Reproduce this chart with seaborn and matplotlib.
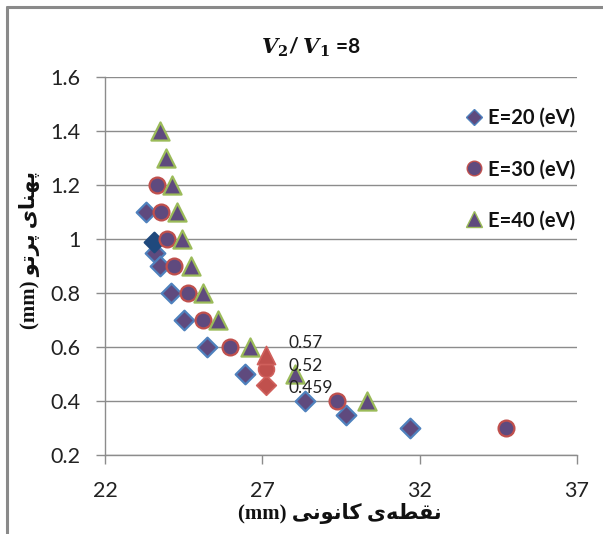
import numpy as np
import pandas as pd
import seaborn as sns
import matplotlib.pyplot as plt
from matplotlib.lines import Line2D

# ---------------- data ----------------
e20_x = [23.3, 23.6, 23.75, 24.1, 24.5, 25.25, 26.45, 28.35, 29.65, 31.7]
e20_y = [1.1, 0.95, 0.9, 0.8, 0.7, 0.6, 0.5, 0.4, 0.35, 0.3]
e30_x = [23.65, 23.77, 23.98, 24.2, 24.64, 25.11, 25.96, 29.38, 34.74]
e30_y = [1.2, 1.1, 1.0, 0.9, 0.8, 0.7, 0.6, 0.4, 0.3]
e40_x = [23.74, 23.93, 24.12, 24.3, 24.46, 24.74, 25.12, 25.59, 26.6, 28.04, 30.32]
e40_y = [1.4, 1.3, 1.2, 1.1, 1.0, 0.9, 0.8, 0.7, 0.6, 0.5, 0.4]
dark_x = [23.55]
dark_y = [0.99]
mark_x = [27.13, 27.13, 27.13]
mark_y = [0.459, 0.52, 0.57]
mark_labels = ["0.459", "0.52", "0.57"]
series_labels = ["E=20 (eV)", "E=30 (eV)", "E=40 (eV)"]
x_ticks = [22, 27, 32, 37]
y_ticks = [0.2, 0.4, 0.6, 0.8, 1.0, 1.2, 1.4, 1.6]
y_ticklabels = ["0.2", "0.4", "0.6", "0.8", "1", "1.2", "1.4", "1.6"]

# Persian labels (shaped presentation forms, logical order)
xlabel_words = ["\uFEE7\uFED8\uFEC4\uFEEA\uFBFC",                # نقطه‌ی
                "\uFB90\uFE8E\uFEE7\uFEEE\uFEE7\uFBFD"]          # کانونی
ylabel_words = ["\uFB58\uFEEC\uFEE8\uFE8E\uFBFC",                # پهنای
                "\uFB58\uFEAE\uFE97\uFEEE"]                      # پرتو


def visual(words, suffix):
    return suffix + " " + " ".join(w[::-1] for w in reversed(words))


PURPLE = "#5F4A7E"
BLUE = "#4F81BD"
RED = "#C0504D"
GREEN = "#9BBB59"
NAVY = "#1F497D"
GRID = "#8C8C8C"

sns.set_theme(style="white")
plt.rcParams['font.family'] = ['Lato', 'DejaVu Sans']
plt.rcParams['mathtext.fontset'] = 'dejavuserif'

W, H = 603, 534
fig = plt.figure(figsize=(W / 100, H / 100), dpi=100)
ax = fig.add_axes([105 / W, 1 - 455 / H, (577 - 105) / W, (455 - 77) / H])

# outer frame (top/left visible)
fig.add_artist(Line2D([6.5 / W, 1], [1 - 6.5 / H, 1 - 6.5 / H], color="#8A8A8A", lw=2.2, transform=fig.transFigure))
fig.add_artist(Line2D([6.5 / W, 6.5 / W], [0, 1 - 6.5 / H], color="#8A8A8A", lw=2.2, transform=fig.transFigure))

df20 = pd.DataFrame({"x": e20_x, "y": e20_y})
df30 = pd.DataFrame({"x": e30_x, "y": e30_y})
df40 = pd.DataFrame({"x": e40_x, "y": e40_y})

sns.scatterplot(data=df20, x="x", y="y", marker="D", s=100, color=PURPLE,
                edgecolor=BLUE, linewidth=1.6, ax=ax, legend=False, zorder=3)
sns.scatterplot(x=dark_x, y=dark_y, marker="D", s=100, color=NAVY,
                edgecolor=NAVY, linewidth=1.6, ax=ax, legend=False, zorder=3)
sns.scatterplot(data=df30, x="x", y="y", marker="o", s=130, color=PURPLE,
                edgecolor=RED, linewidth=1.6, ax=ax, legend=False, zorder=4)
sns.scatterplot(data=df40, x="x", y="y", marker="^", s=170, color=PURPLE,
                edgecolor=GREEN, linewidth=1.6, ax=ax, legend=False, zorder=5)

# highlighted points
mk = ["D", "o", "^"]
ss = [100, 130, 170]
for i in range(3):
    sns.scatterplot(x=[mark_x[i]], y=[mark_y[i]], marker=mk[i], s=ss[i], color=RED,
                    edgecolor="#D0605C", linewidth=1.2, ax=ax, legend=False, zorder=6)

offs = [(16, -2), (16, 2), (16, 8.5)]
for i in range(3):
    ax.annotate(mark_labels[i], (mark_x[i], mark_y[i]), xytext=offs[i],
                textcoords="offset points", ha="left", va="center",
                fontsize=12.5, color="#222222", zorder=7)

ax.set_xlim(22, 37)
ax.set_ylim(0.2, 1.6)
ax.set_xticks(x_ticks)
ax.set_xticklabels([str(t) for t in x_ticks])
ax.set_yticks(y_ticks)
ax.set_yticklabels(y_ticklabels)
ax.grid(axis="y", color=GRID, lw=1.0)
ax.set_axisbelow(True)
for s in ["top", "right"]:
    ax.spines[s].set_visible(False)
for s in ["left", "bottom"]:
    ax.spines[s].set_color(GRID)
    ax.spines[s].set_linewidth(1.0)
ax.tick_params(axis="both", which="major", direction="out", length=6.5, width=1.0,
               color=GRID, labelsize=15.5, labelcolor="#222222")
ax.tick_params(axis="y", pad=11, left=True)
ax.tick_params(axis="x", pad=12, bottom=True)
ax.set_xlabel("")
ax.set_ylabel("")

# axis labels
lab_family = ['Liberation Serif', 'DejaVu Sans']
fig.text(340 / W, 1 - 514 / H, visual(xlabel_words, "(mm)"), ha="center", va="center",
         fontsize=15, fontweight="bold", family=lab_family, color="#111111")
fig.text(30 / W, 1 - 250 / H, visual(ylabel_words, "(mm)"), ha="center", va="center",
         rotation=90, fontsize=15, fontweight="bold", family=lab_family, color="#111111")

# title
fig.text(311 / W, 1 - 47 / H, r"$\mathbfit{V}_{\mathbf{2}}$/ $\mathbfit{V}_{\mathbf{1}}$ =8",
         ha="center", va="center", fontsize=15, fontweight="bold", color="#111111")

# legend
handles = [
    Line2D([], [], ls="", marker="D", ms=8, mfc=PURPLE, mec=BLUE, mew=1.0),
    Line2D([], [], ls="", marker="o", ms=10.5, mfc=PURPLE, mec=RED, mew=1.0),
    Line2D([], [], ls="", marker="^", ms=11, mfc=PURPLE, mec=GREEN, mew=1.0),
]
leg = fig.legend(handles, series_labels, loc="upper left", bbox_to_anchor=(462 / W, 1 - 108 / H),
                 frameon=False, handletextpad=0.1, handlelength=1.2, labelspacing=1.55,
                 prop={"family": "Lato", "weight": "bold", "size": 14.5}, borderaxespad=0,
                 borderpad=0)
for t in leg.get_texts():
    t.set_color("#111111")

fig.savefig("out.png", dpi=100)
